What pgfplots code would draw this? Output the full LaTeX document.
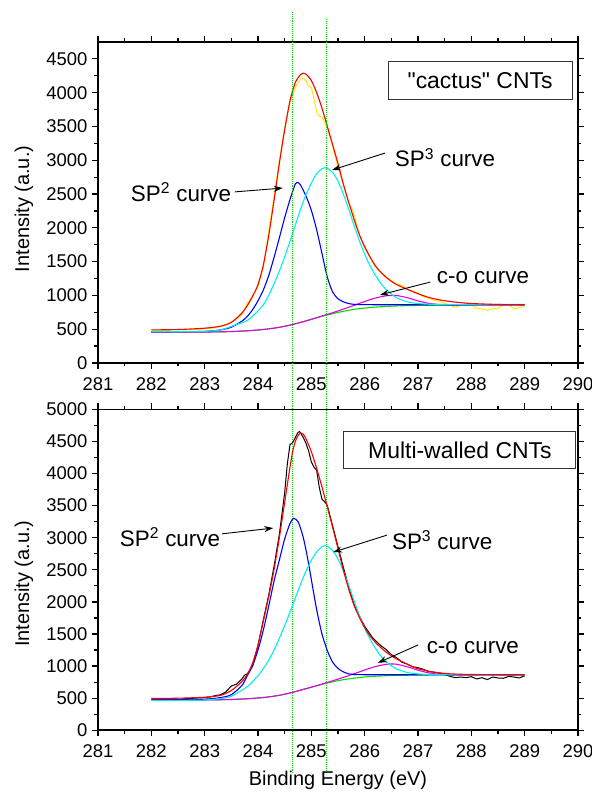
\documentclass[border=0pt]{standalone}
\usepackage{fontspec}
\setmainfont{Liberation Sans}
\newfontfamily\rawfont{Liberation Sans}[Ligatures=TeXOff]
\usepackage{pgfplots}
\pgfplotsset{compat=1.18}
\usetikzlibrary{arrows.meta}

\definecolor{cgreen}{RGB}{0,220,0}
\definecolor{cyel}{RGB}{255,235,0}
\definecolor{ccyan}{RGB}{0,240,240}
\definecolor{cmag}{RGB}{230,0,230}
\definecolor{cblue}{RGB}{0,0,240}
\definecolor{cred}{RGB}{250,0,0}

\pgfplotsset{
  panel/.style={
    scale only axis, width=480bp, height=321bp, anchor=south west,
    xmin=281, xmax=290, xtick={281,282,...,290}, minor x tick num=1,
    minor y tick num=1, ymin=0,
    tick align=outside,
    major tick length=6bp, minor tick length=3.5bp,
    axis line style={line width=1.6bp},
    tick style={black, line width=1.2bp},
    tick label style={font=\fontsize{18.5}{21}\selectfont},
    xticklabel style={yshift=-5bp},
    yticklabel style={xshift=-1bp},
    /pgf/number format/1000 sep={},
    /pgf/number format/assume math mode=true,
    label style={font=\fontsize{20}{24}\selectfont},
    ylabel={Intensity (a.u.)},
    clip=false,
  },
}
\tikzset{
  fit/.style={line width=1.1bp, smooth, tension=0.45},
  ann/.style={font=\fontsize{22.5}{26}\selectfont, inner sep=0pt},
  arr/.style={-{Stealth[length=9bp,width=6bp]}, line width=0.9bp},
  box/.style={draw=black!80, line width=1bp, inner sep=0pt, font=\fontsize{23}{26}\selectfont},
}

\begin{document}
\begin{tikzpicture}
\path[use as bounding box] (0,0) rectangle (592bp,800bp);

%% ---------------- TOP PANEL ----------------
\begin{axis}[panel, at={(98bp,437bp)}, ymax=4750, ytick={0,500,...,4500},
  ylabel style={at={(axis description cs:-0.154,0.48)}, anchor=center}]
% raw data (yellow)
\addplot[cyel, line width=1bp] coordinates {
(282.0,480) (282.2,478) (282.4,490) (282.5,500) (282.6,488) (282.8,495) (283.0,505) (283.2,520) (283.3,540) (283.4,565) (283.5,610) (283.6,650) (283.7,720) (283.8,880) (283.9,990) (284.0,1130) (284.1,1420) (284.2,1950) (284.3,2450) (284.4,3000) (284.5,3480) (284.6,3850) (284.7,4080) (284.8,4200) (284.85,4210) (284.9,4180) (284.95,4090) (285.0,4080) (285.1,3720) (285.15,3650) (285.2,3640) (285.3,3480) (285.4,3200) (285.5,2900) (285.6,2640) (285.7,2370) (285.75,2300) (285.8,2200) (285.9,1900) (286.0,1700) (286.1,1560) (286.2,1420) (286.3,1350) (286.4,1280) (286.5,1210) (286.6,1170) (286.7,1150) (286.8,1090) (286.9,1060) (287.0,1040) (287.1,980) (287.2,960) (287.3,930) (287.4,910) (287.5,880) (287.6,860) (287.7,820) (287.8,850) (287.9,870) (288.0,860) (288.1,810) (288.2,800) (288.3,780) (288.4,800) (288.5,810) (288.6,860) (288.7,860) (288.8,800) (288.9,820) (289.0,850)};
% background (green)
\addplot[cgreen, fit] coordinates {
(282.0,455) (282.5,456) (283.0,458) (283.5,465) (283.8,475) (284.0,488) (284.2,505) (284.4,528) (284.6,560) (284.8,600) (285.0,645) (285.2,690) (285.4,730) (285.6,765) (285.8,793) (286.0,813) (286.2,827) (286.4,837) (286.6,844) (286.8,849) (287.0,852) (287.5,857) (288.0,859) (288.5,860) (289.0,860)};
% c-o (magenta)
\addplot[cmag, fit] coordinates {
(282.0,455) (282.5,456) (283.0,458) (283.5,465) (284.0,488) (284.2,505) (284.4,528) (284.6,561) (284.8,601) (285.0,647) (285.2,696) (285.4,744) (285.6,797) (285.8,853) (286.0,910) (286.2,961) (286.4,994) (286.5,1000) (286.6,999) (286.8,966) (287.0,919) (287.2,883) (287.4,866) (287.6,859) (287.8,859) (288.0,859) (288.5,860) (289.0,860)};
% SP2 (blue)
\addplot[cblue, fit] coordinates {
(282.0,462) (282.5,463) (283.0,468) (283.3,490) (283.5,530) (283.7,620) (283.8,690) (283.9,790) (284.0,920) (284.1,1080) (284.2,1290) (284.3,1560) (284.4,1850) (284.5,2150) (284.6,2420) (284.65,2540) (284.7,2650) (284.75,2672) (284.8,2630) (284.9,2470) (285.0,2260) (285.1,1970) (285.2,1620) (285.3,1270) (285.4,1050) (285.5,950) (285.6,905) (285.7,880) (285.8,868) (286.0,863) (287.0,862) (289.0,862)};
% SP3 (cyan)
\addplot[ccyan, fit] coordinates {
(282.0,462) (282.5,463) (283.0,468) (283.3,490) (283.6,570) (283.8,630) (284.0,770) (284.1,860) (284.2,1000) (284.3,1170) (284.4,1360) (284.5,1570) (284.6,1800) (284.7,2040) (284.8,2280) (284.9,2490) (285.0,2660) (285.1,2800) (285.2,2875) (285.25,2889) (285.3,2880) (285.4,2820) (285.5,2690) (285.6,2500) (285.7,2280) (285.8,2040) (285.9,1810) (286.0,1610) (286.1,1440) (286.2,1300) (286.3,1180) (286.4,1090) (286.5,1020) (286.6,965) (286.8,905) (287.0,880) (287.2,870) (287.5,867) (288.0,866) (289.0,866)};
% envelope (red)
\addplot[cred, fit] coordinates {
(282.0,490) (282.5,495) (283.0,515) (283.3,545) (283.5,600) (283.7,740) (283.8,850) (283.9,990) (284.0,1160) (284.1,1450) (284.2,1880) (284.3,2400) (284.4,2950) (284.5,3450) (284.6,3880) (284.7,4150) (284.8,4270) (284.85,4289) (284.9,4275) (285.0,4180) (285.1,4000) (285.2,3770) (285.3,3500) (285.4,3230) (285.5,2950) (285.6,2650) (285.7,2380) (285.8,2130) (285.9,1900) (286.0,1720) (286.1,1570) (286.2,1440) (286.3,1345) (286.4,1270) (286.5,1210) (286.6,1160) (286.8,1090) (287.0,1025) (287.2,970) (287.4,935) (287.6,910) (287.8,893) (288.0,880) (288.5,866) (289.0,862)};
% vertical guide lines spanning both panels
\addplot[cgreen, densely dotted, line width=0.9bp] coordinates {(284.64,5194) (284.64,-6070)};
\addplot[cgreen, densely dotted, line width=0.9bp] coordinates {(285.28,5090) (285.28,-6040)};
% annotations
\node[ann] at (axis description cs:0.173,0.533) {SP\textsuperscript{2} curve};
\draw[arr] (axis description cs:0.285,0.533) -- (axis description cs:0.385,0.545);
\node[ann] at (axis description cs:0.723,0.639) {SP\textsuperscript{3} curve};
\draw[arr] (axis description cs:0.598,0.654) -- (axis description cs:0.4875,0.601);
\node[ann] at (axis description cs:0.802,0.265) {c-o curve};
\draw[arr] (axis description cs:0.692,0.252) -- (axis description cs:0.5875,0.212);
\node[box, minimum width=184bp, minimum height=38bp] at (axis description cs:0.796,0.879) {\rawfont "cactus" CNTs};
\end{axis}

%% ---------------- BOTTOM PANEL ----------------
\begin{axis}[panel, at={(98bp,69.7bp)}, ymax=5000, ytick={0,500,...,5000},
  ylabel style={at={(axis description cs:-0.154,0.457)}, anchor=center},
  xlabel={Binding Energy (eV)},
  xlabel style={at={(axis description cs:0.5,-0.155)}, anchor=center}]
% raw data (black)
\addplot[black, line width=1bp] coordinates {
(282.0,490) (282.2,485) (282.4,470) (282.5,480) (282.6,490) (282.8,500) (283.0,510) (283.1,520) (283.2,540) (283.3,555) (283.4,600) (283.5,690) (283.6,720) (283.7,800) (283.75,860) (283.8,880) (283.9,1000) (284.0,1320) (284.1,1720) (284.2,2100) (284.3,2550) (284.4,3050) (284.5,3700) (284.55,4150) (284.6,4450) (284.65,4480) (284.7,4560) (284.75,4640) (284.78,4654) (284.85,4560) (284.9,4470) (284.95,4350) (285.0,4180) (285.05,4100) (285.1,4050) (285.15,3780) (285.2,3600) (285.25,3560) (285.3,3500) (285.4,3180) (285.5,2860) (285.6,2540) (285.7,2240) (285.8,1960) (285.9,1780) (286.0,1620) (286.1,1500) (286.15,1440) (286.2,1400) (286.3,1320) (286.4,1260) (286.5,1180) (286.6,1130) (286.7,1060) (286.8,1030) (286.9,990) (287.0,975) (287.1,950) (287.2,915) (287.3,905) (287.4,890) (287.5,870) (287.6,840) (287.7,820) (287.8,830) (287.9,820) (288.0,835) (288.1,800) (288.2,820) (288.3,790) (288.4,830) (288.5,815) (288.6,810) (288.7,840) (288.8,830) (288.9,815) (289.0,850)};
% background (green)
\addplot[cgreen, fit] coordinates {
(282.0,470) (282.5,471) (283.0,473) (283.5,480) (283.8,490) (284.0,503) (284.2,520) (284.4,545) (284.6,580) (284.8,625) (285.0,670) (285.2,715) (285.4,755) (285.6,788) (285.8,812) (286.0,830) (286.2,842) (286.4,850) (286.6,855) (286.8,858) (287.0,861) (287.4,863) (288.0,865) (289.0,866)};
% c-o (magenta)
\addplot[cmag, fit] coordinates {
(282.0,470) (282.5,471) (283.0,473) (283.5,480) (284.0,503) (284.2,520) (284.4,545) (284.6,581) (284.8,626) (285.0,672) (285.2,721) (285.4,771) (285.6,824) (285.8,880) (286.0,939) (286.2,993) (286.4,1027) (286.5,1033) (286.6,1029) (286.8,990) (287.0,936) (287.2,895) (287.4,874) (287.6,866) (287.8,865) (288.0,865) (289.0,866)};
% SP2 (blue)
\addplot[cblue, fit] coordinates {
(282.0,475) (282.5,477) (283.0,485) (283.3,510) (283.5,555) (283.7,700) (283.8,850) (283.9,1010) (284.0,1250) (284.1,1560) (284.2,1930) (284.3,2320) (284.4,2650) (284.5,2980) (284.6,3220) (284.67,3303) (284.75,3250) (284.8,3140) (284.85,3000) (284.9,2810) (284.95,2590) (285.0,2350) (285.1,1880) (285.2,1500) (285.3,1240) (285.4,1060) (285.5,965) (285.6,910) (285.7,880) (285.8,870) (286.0,866) (289.0,866)};
% SP3 (cyan)
\addplot[ccyan, fit] coordinates {
(282.0,465) (282.5,466) (283.0,472) (283.3,495) (283.5,530) (283.8,680) (284.0,850) (284.1,960) (284.2,1090) (284.3,1250) (284.4,1430) (284.5,1630) (284.6,1840) (284.7,2060) (284.8,2280) (284.9,2480) (285.0,2650) (285.1,2780) (285.2,2860) (285.25,2876) (285.3,2868) (285.4,2800) (285.5,2670) (285.6,2480) (285.7,2260) (285.8,2020) (285.9,1790) (286.0,1590) (286.1,1420) (286.2,1280) (286.3,1160) (286.4,1070) (286.5,1005) (286.6,955) (286.8,900) (287.0,878) (287.2,870) (287.5,867) (288.0,866) (289.0,866)};
% envelope (red)
\addplot[cred, fit] coordinates {
(282.0,495) (282.5,500) (283.0,515) (283.3,545) (283.5,620) (283.7,760) (283.8,870) (283.9,1050) (284.0,1330) (284.1,1700) (284.2,2080) (284.3,2500) (284.4,3000) (284.5,3550) (284.6,4100) (284.65,4340) (284.7,4500) (284.75,4590) (284.8,4630) (284.85,4610) (284.9,4540) (285.0,4340) (285.1,4080) (285.2,3790) (285.3,3480) (285.4,3160) (285.5,2830) (285.6,2500) (285.7,2200) (285.8,1950) (285.9,1760) (286.0,1600) (286.1,1470) (286.2,1370) (286.3,1290) (286.4,1220) (286.5,1160) (286.6,1110) (286.7,1070) (286.8,1030) (286.9,990) (287.0,960) (287.2,920) (287.4,895) (287.6,880) (287.8,873) (288.0,869) (288.5,866) (289.0,866)};
% annotations
\node[ann] at (axis description cs:0.15,0.602) {SP\textsuperscript{2} curve};
\draw[arr] (axis description cs:0.258,0.612) -- (axis description cs:0.365,0.630);
\node[ann] at (axis description cs:0.717,0.593) {SP\textsuperscript{3} curve};
\draw[arr] (axis description cs:0.602,0.608) -- (axis description cs:0.49,0.555);
\node[ann] at (axis description cs:0.781,0.259) {c-o curve};
\draw[arr] (axis description cs:0.667,0.266) -- (axis description cs:0.583,0.21);
\node[box, minimum width=232bp, minimum height=37bp] at (axis description cs:0.754,0.872) {Multi-walled CNTs};
\end{axis}
\end{tikzpicture}
\end{document}
